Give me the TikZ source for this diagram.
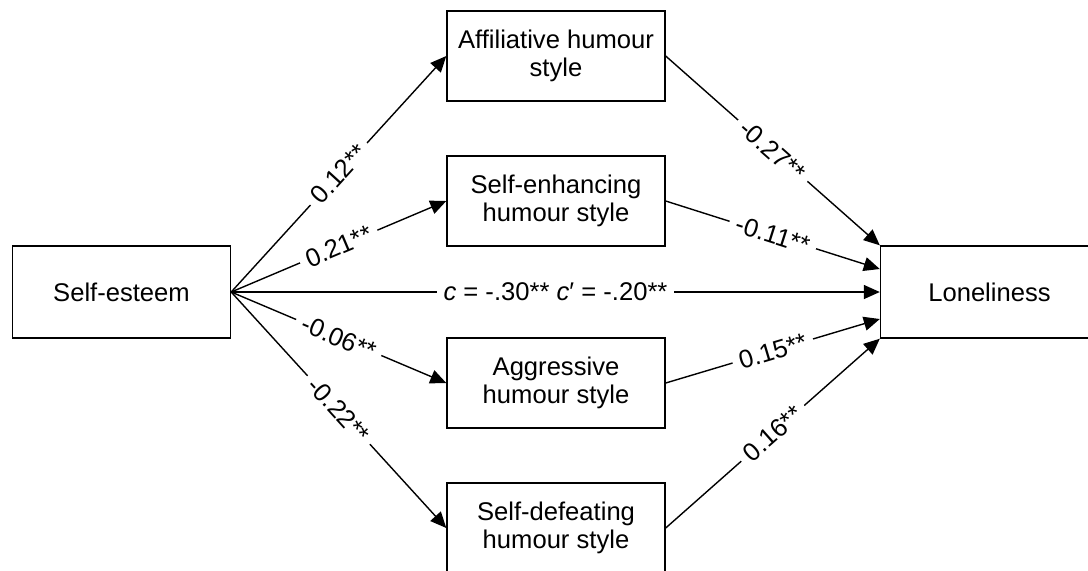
\documentclass[tikz,border=0pt]{standalone}
\usepackage{fontspec}
\setmainfont{Liberation Sans}
\usepackage{tikz}
\usetikzlibrary{arrows.meta}

\begin{document}
\begin{tikzpicture}[x=0.5pt,y=-0.5pt,
  varbox/.style={draw,line width=0.7pt,minimum width=109pt,minimum height=45pt,inner sep=0pt,align=center,font=\fontsize{12.8}{13.8}\selectfont},
  effect/.style={line width=0.7pt,-{Triangle[length=8pt,width=7pt]}},
  coef/.style={midway,sloped,fill=white,inner sep=3.5pt,font=\fontsize{12.8}{13.8}\selectfont}]
\useasboundingbox (0,0) rectangle (1088,570);
\node[varbox,minimum height=46pt] (esteem) at (121.5,292) {Self-esteem};
\node[varbox] (affil) at (556,56) {Affiliative humour\\style};
\node[varbox] (enhance) at (556,201) {Self-enhancing\\humour style};
\node[varbox] (aggress) at (556,383) {Aggressive\\humour style};
\node[varbox] (defeat) at (556,528) {Self-defeating\\humour style};
\node[varbox,minimum height=46pt] (lonely) at (989.5,292) {Loneliness};
% entry points on the left side of Loneliness
\coordinate (inA) at (lonely.north west);
\coordinate (inB) at ([yshift=11.5pt]lonely.west);
\coordinate (inD) at ([yshift=-13.5pt]lonely.west);
\coordinate (inE) at (lonely.south west);
\draw[effect] (esteem.east) -- node[coef] {0.12**} (affil.west);
\draw[effect] (esteem.east) -- node[coef] {0.21**} (enhance.west);
\draw[effect] (esteem.east) -- node[coef] {\textit{c} = -.30** \textit{c}′ = -.20**} (lonely.west);
\draw[effect] (esteem.east) -- node[coef] {-0.06**} (aggress.west);
\draw[effect] (esteem.east) -- node[coef] {-0.22**} (defeat.west);
\draw[effect] (affil.east) -- node[coef] {-0.27**} (inA);
\draw[effect] (enhance.east) -- node[coef] {-0.11**} (inB);
\draw[effect] (aggress.east) -- node[coef] {0.15**} (inD);
\draw[effect] (defeat.east) -- node[coef] {0.16**} (inE);
\end{tikzpicture}
\end{document}
